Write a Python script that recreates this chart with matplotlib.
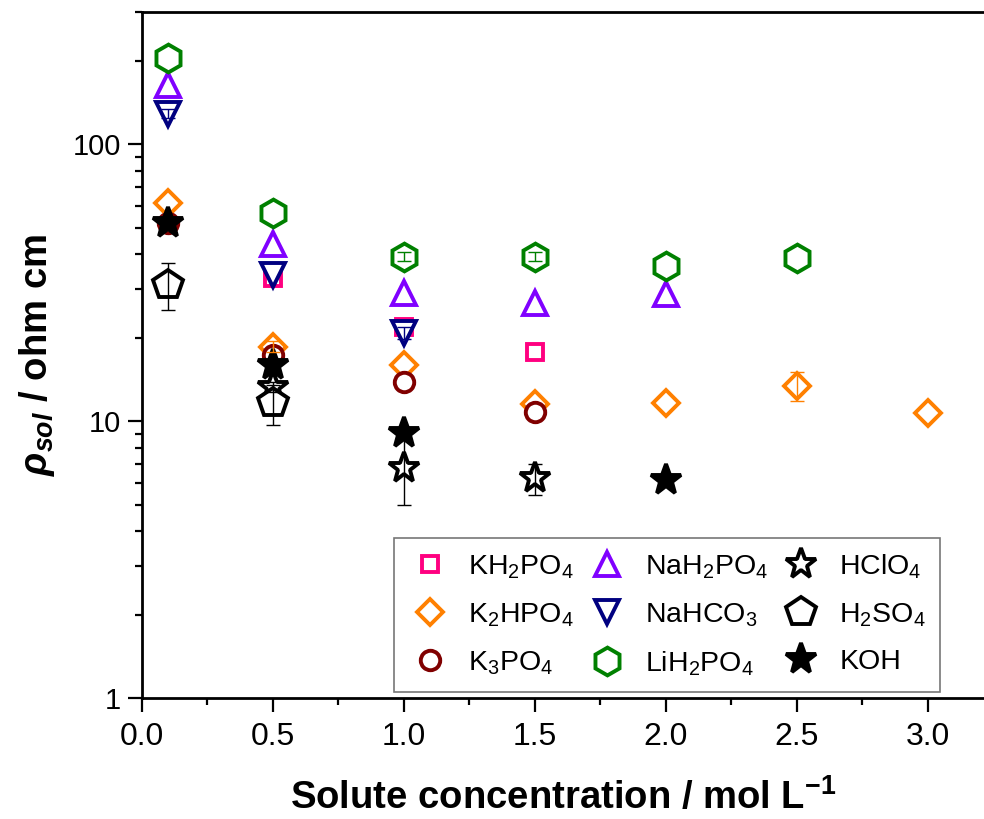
import numpy as np
import matplotlib
matplotlib.use('Agg')
import matplotlib.pyplot as plt
from matplotlib.ticker import LogLocator, NullFormatter, MultipleLocator, FormatStrFormatter

plt.rcParams['font.family'] = ['Liberation Sans', 'DejaVu Sans']
plt.rcParams['mathtext.fontset'] = 'custom'
plt.rcParams['mathtext.rm'] = 'Liberation Sans'
plt.rcParams['mathtext.it'] = 'Liberation Sans:italic:bold'
plt.rcParams['mathtext.bf'] = 'Liberation Sans:bold'

# resistivity (ohm cm) vs solute concentration (mol/L)
x_kh2po4 = [0.5, 1.0, 1.5]
y_kh2po4 = [33.0, 21.9, 17.8]
e_kh2po4 = [0, 0, 0]

x_k2hpo4 = [0.1, 0.5, 1.0, 1.5, 2.0, 2.5, 3.0]
y_k2hpo4 = [61.5, 18.6, 16.0, 11.5, 11.6, 13.4, 10.7]
e_k2hpo4 = [0, 0.8, 0, 0, 0, 1.6, 0]

x_k3po4 = [0.1, 0.5, 1.0, 1.5]
y_k3po4 = [52.0, 17.4, 13.8, 10.8]
e_k3po4 = [0, 0, 0, 0]

x_nah2po4 = [0.1, 0.5, 1.0, 1.5, 2.0]
y_nah2po4 = [164, 43.5, 29.0, 26.7, 28.8]
e_nah2po4 = [0, 0, 0, 0, 0]

x_nahco3 = [0.1, 0.5, 1.0]
y_nahco3 = [129, 33.7, 20.8]
e_nahco3 = [5, 0, 1.0]

x_lih2po4 = [0.1, 0.5, 1.0, 1.5, 2.0, 2.5]
y_lih2po4 = [204, 56.6, 39.3, 39.3, 36.4, 38.9]
e_lih2po4 = [0, 0, 1.5, 1.5, 0, 0]

x_hclo4 = [0.5, 1.0, 1.5]
y_hclo4 = [13.3, 6.77, 6.23]
e_hclo4 = [0.5, 1.8, 0.8]

x_h2so4 = [0.1, 0.5]
y_h2so4 = [31.1, 11.6]
e_h2so4 = [6.0, 1.9]

x_koh = [0.1, 0.5, 1.0, 2.0]
y_koh = [51.9, 16.0, 9.05, 6.14]
e_koh = [0, 0, 0, 0]

series = [
    (x_kh2po4, y_kh2po4, e_kh2po4, r'KH$_2$PO$_4$', 's', '#FF0080', 'white', 12),
    (x_k2hpo4, y_k2hpo4, e_k2hpo4, r'K$_2$HPO$_4$', 'D', '#FF8000', 'white', 13),
    (x_k3po4, y_k3po4, e_k3po4, r'K$_3$PO$_4$', 'o', '#800000', 'white', 14),
    (x_nah2po4, y_nah2po4, e_nah2po4, r'NaH$_2$PO$_4$', '^', '#8000FF', 'white', 17),
    (x_nahco3, y_nahco3, e_nahco3, r'NaHCO$_3$', 'v', '#000080', 'white', 17),
    (x_lih2po4, y_lih2po4, e_lih2po4, r'LiH$_2$PO$_4$', 'h', '#008000', 'white', 20),
    (x_hclo4, y_hclo4, e_hclo4, r'HClO$_4$', '*', 'black', 'white', 23),
    (x_h2so4, y_h2so4, e_h2so4, r'H$_2$SO$_4$', 'p', 'black', 'white', 22),
    (x_koh, y_koh, e_koh, 'KOH', '*', 'black', 'black', 23),
]

fig = plt.figure(figsize=(9.84, 8.19), dpi=100)
ax = fig.add_axes([0.144, 0.1474, 0.856, 0.838])

handles = []
for xs, ys, es, lab, mk, col, fc, ms in series:
    xs = np.array(xs); ys = np.array(ys); es = np.array(es)
    m = es > 0
    if m.any():
        ax.errorbar(xs[m], ys[m], yerr=es[m], fmt='none', ecolor=col,
                    elinewidth=1, capsize=5, capthick=1, zorder=3)
    h, = ax.plot(xs, ys, linestyle='none', marker=mk, ms=ms, mec=col, mfc=fc,
                 mew=2.8, label=lab, zorder=2)
    handles.append(h)

ax.set_yscale('log')
ax.set_ylim(1, 300)
ax.set_xlim(0, 3.215)
ax.set_yticks([1, 10, 100], ['1', '10', '100'])
ax.yaxis.set_minor_locator(LogLocator(base=10, subs=np.arange(2, 10)))
ax.yaxis.set_minor_formatter(NullFormatter())
ax.xaxis.set_major_locator(MultipleLocator(0.5))
ax.xaxis.set_minor_locator(MultipleLocator(0.25))
ax.xaxis.set_major_formatter(FormatStrFormatter('%.1f'))

for s in ['left', 'bottom', 'top']:
    ax.spines[s].set_linewidth(2)
ax.spines['right'].set_visible(False)
ax.tick_params(which='major', direction='out', length=10, width=1.6, labelsize=21, pad=5)
ax.tick_params(axis='x', which='major', labelsize=23, pad=7)
ax.tick_params(which='minor', direction='out', length=5, width=1.6)
ax.tick_params(top=False, right=False, which='both')

ax.set_xlabel(r'Solute concentration / mol L$^{\mathbf{-1}}$', fontsize=27.5,
              fontweight='bold', labelpad=19)
ax.set_ylabel(r'$\rho_{sol}$ / ohm cm', fontsize=27.5, fontweight='bold')
ax.yaxis.set_label_coords(-0.1, 0.5)

leg = ax.legend(handles=handles, ncol=3, loc='lower right',
                bbox_to_anchor=(0.948, 0.009), borderaxespad=0, fontsize=20.5,
                frameon=True, fancybox=False, edgecolor='#555555',
                handletextpad=0.6, columnspacing=0.4, labelspacing=0.72,
                handlelength=1.5, borderpad=0.5)
leg.get_frame().set_linewidth(1.2)

fig.savefig('out.png', dpi=100)
